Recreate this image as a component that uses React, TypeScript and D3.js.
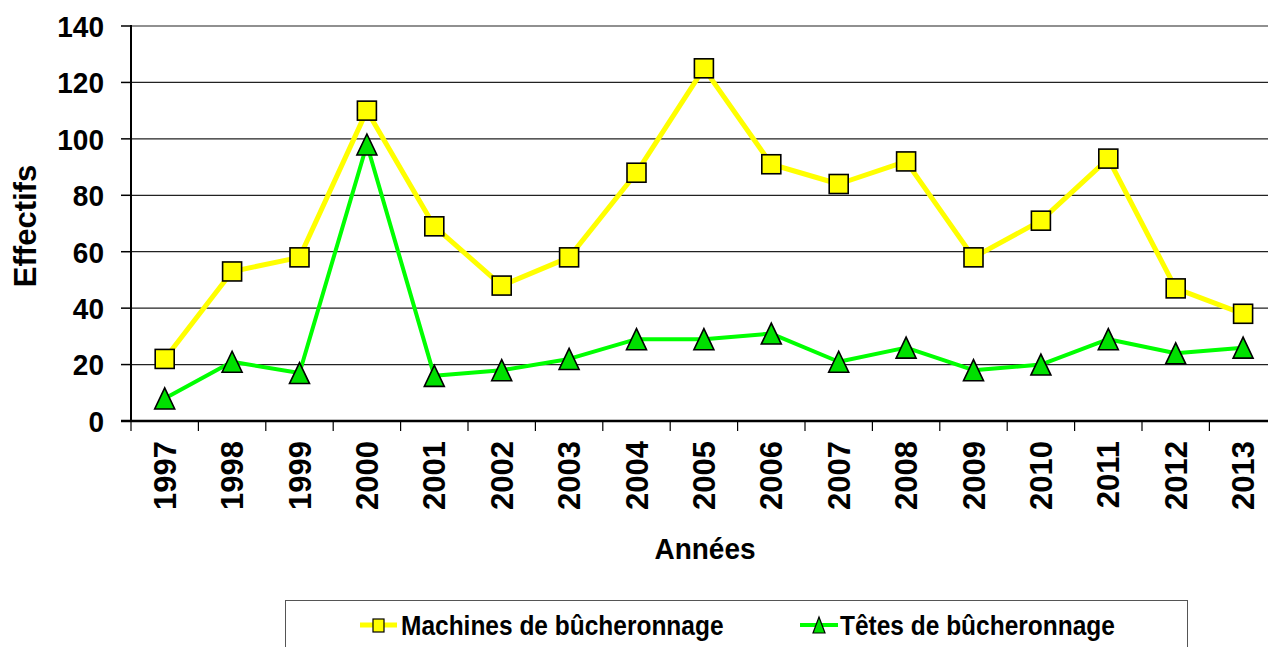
import React from 'react';
import { scaleBand, scaleLinear, line, range } from 'd3';

const years = ['1997', '1998', '1999', '2000', '2001', '2002', '2003', '2004', '2005', '2006', '2007', '2008', '2009', '2010', '2011', '2012', '2013'];
const machines = [22, 53, 58, 110, 69, 48, 58, 88, 125, 91, 84, 92, 58, 71, 93, 47, 38];
const tetes = [8, 21, 17, 98, 16, 18, 22, 29, 29, 31, 21, 26, 18, 20, 29, 24, 26];
const yTicks = [0, 20, 40, 60, 80, 100, 120, 140];

const FONT = '"Liberation Sans", Arial, sans-serif';

const W = 1268;
const H = 647;
const left = 131;
const top = 26;
const bottom = 421;

function Square({ x, y }: { x: number; y: number }) {
  return <rect x={x - 9.5} y={y - 9.5} width={19} height={19} fill="#ffff00" stroke="#000" strokeWidth={1.6} />;
}

function Triangle({ x, y }: { x: number; y: number }) {
  const h = 21, w = 20;
  return (
    <path
      d={`M${x},${y - h / 2}L${x + w / 2},${y + h / 2}L${x - w / 2},${y + h / 2}Z`}
      fill="#00e000"
      stroke="#000"
      strokeWidth={1.6}
      strokeLinejoin="miter"
    />
  );
}

export default function App() {
  const x = scaleBand<string>().domain(years).range([left, left + 67.4 * years.length]).padding(0);
  const y = scaleLinear().domain([0, 140]).range([bottom, top]);
  const cx = (d: string) => (x(d) || 0) + x.bandwidth() / 2;

  const lineGen = line<number>()
    .x((_, i) => cx(years[i]))
    .y(d => y(d));

  return (
    <svg width={W} height={H} style={{ position: 'absolute', left: 0, top: 0, background: '#fff' }} fontFamily={FONT}>
      {/* grid */}
      {yTicks.filter(t => t > 0).map(t => (
        <line key={t} x1={left} x2={W} y1={y(t)} y2={y(t)} stroke="#222" strokeWidth={1.2} />
      ))}
      {/* y axis */}
      <line x1={left} x2={left} y1={top - 1} y2={bottom + 1} stroke="#000" strokeWidth={2} />
      {yTicks.map(t => (
        <g key={t}>
          <line x1={left - 10} x2={left} y1={y(t)} y2={y(t)} stroke="#000" strokeWidth={1.5} />
          <text transform={`translate(104,${y(t)}) scale(1,1.08)`} dy="0.36em" textAnchor="end" fontSize={28} fontWeight="bold">{t}</text>
        </g>
      ))}
      {/* x axis */}
      <line x1={left - 10} x2={W} y1={bottom} y2={bottom} stroke="#000" strokeWidth={2.6} />
      {range(years.length + 1).map(i => {
        const bx = left + x.step() * i;
        return <line key={i} x1={bx} x2={bx} y1={bottom} y2={bottom + 10} stroke="#000" strokeWidth={1.2} />;
      })}
      {years.map(d => (
        <text
          key={d}
          transform={`translate(${cx(d)},${441}) rotate(-90)`}
          textAnchor="end"
          dy="0.36em"
          fontSize={31}
          fontWeight="bold"
        >
          {d}
        </text>
      ))}

      {/* series */}
      <path d={lineGen(machines) || ''} fill="none" stroke="#ffff00" strokeWidth={5} strokeLinejoin="round" />
      <path d={lineGen(tetes) || ''} fill="none" stroke="#00ff00" strokeWidth={4} strokeLinejoin="round" />
      {tetes.map((v, i) => <Triangle key={i} x={cx(years[i])} y={y(v)} />)}
      {machines.map((v, i) => <Square key={i} x={cx(years[i])} y={y(v)} />)}

      {/* axis titles */}
      <text transform={`translate(25,226) rotate(-90)`} textAnchor="middle" dy="0.36em" fontSize={31} fontWeight="bold">Effectifs</text>
      <text transform="translate(705,548) scale(1,1.08)" textAnchor="middle" dy="0.36em" fontSize={28} fontWeight="bold">Années</text>

      {/* legend */}
      <rect x={285.5} y={600.5} width={902} height={60} fill="#fff" stroke="#555" strokeWidth={1} />
      <line x1={360} x2={397} y1={625} y2={625} stroke="#ffff00" strokeWidth={5} />
      <rect x={373} y={619} width={11} height={13} fill="#ffff00" stroke="#000" strokeWidth={1.2} />
      <text transform="translate(401,625) scale(1,1.12)" dy="0.36em" fontSize={24.5} fontWeight="bold">Machines de bûcheronnage</text>
      <line x1={800} x2={838} y1={625} y2={625} stroke="#00ff00" strokeWidth={4} />
      <path d="M819,617L825,633L813,633Z" fill="#00e000" stroke="#000" strokeWidth={1.2} />
      <text transform="translate(840,625) scale(1,1.12)" dy="0.36em" fontSize={24.5} fontWeight="bold">Têtes de bûcheronnage</text>
    </svg>
  );
}
